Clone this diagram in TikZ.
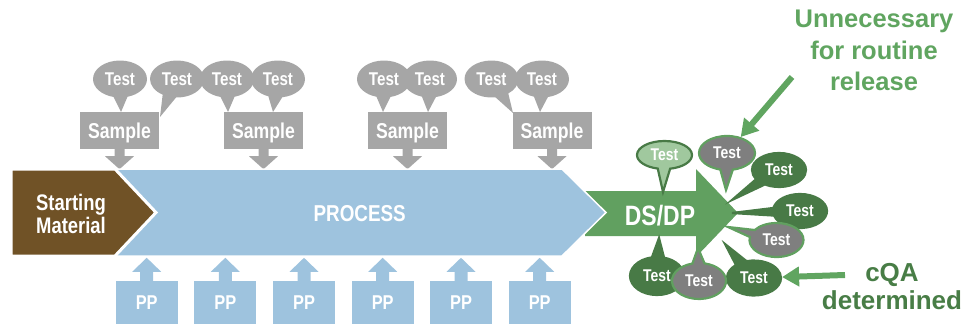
\documentclass[tikz,border=0pt]{standalone}
\usepackage{fontspec}
\setmainfont{Liberation Sans}
\newfontfamily\narrowfont{Liberation Sans}[FakeStretch=0.82]
\usetikzlibrary{shapes.callouts,arrows.meta,calc}
\definecolor{smgray}{RGB}{166,166,166}
\definecolor{brownsm}{RGB}{112,82,38}
\definecolor{procblue}{RGB}{158,195,222}
\definecolor{dsgreen}{RGB}{97,160,96}
\definecolor{dkgreen}{RGB}{72,122,70}
\definecolor{ltgreen}{RGB}{160,200,158}
\definecolor{tgray}{RGB}{127,127,127}
\definecolor{lblgreen}{RGB}{96,165,96}
\definecolor{lbldark}{RGB}{72,125,70}
\begin{document}
\begin{tikzpicture}[x=1pt,y=-1pt,
  nar/.style={font=\narrowfont\bfseries\fontsize{#1}{#1}\selectfont},
  sbox/.style={fill=smgray, text=white, minimum width=79pt, minimum height=37pt,
    inner sep=0pt, nar=21.5, text depth=0pt},
  ppbox/.style={fill=procblue, text=white, minimum width=62pt, minimum height=43pt,
    inner sep=0pt, nar=20, text depth=0pt},
  toptest/.style={ellipse callout, fill=smgray, text=white, minimum width=54pt,
    minimum height=37pt, inner sep=0pt, callout pointer arc=30, nar=18.5, text depth=0pt},
  rtest/.style={ellipse callout, inner sep=0pt, callout pointer arc=26, nar=17,
    text=white, text depth=0pt, line width=2.2pt, minimum width=54pt, minimum height=34pt},
  gtest/.style={rtest, fill=tgray, draw=dsgreen},
  dtest/.style={rtest, fill=dkgreen, draw=dkgreen},
  ltest/.style={rtest, fill=ltgreen, draw=dkgreen},
  garrow/.style={draw=lblgreen, line width=6pt, -{Triangle[width=19pt,length=17pt]}},
  lbl/.style={inner sep=0pt, align=center, anchor=north}
]
\useasboundingbox (0,0) rectangle (967,324);

% DS/DP arrow
\fill[dsgreen] (585,191) -- (696,191) -- (696,169) -- (738,213) -- (696,257)
  -- (696,236) -- (585,236) -- cycle;

% Sample boxes and their arrows
\foreach \i/\x in {1/119.5,2/263.5,3/407.5,4/552}{
  \node[sbox] (s\i) at (\x,130.5) {Sample};
  \fill[smgray] ($(s\i.south)+(-5,0)$) -- ++(0,7) -- ++(-9.5,0)
    -- ($(s\i.south)+(0,20)$) -- ($(s\i.south)+(14.5,7)$) -- ++(-9.5,0) -- ++(0,-7) -- cycle;
}

% Process arrow
\path[fill=procblue, draw=white, line width=1.5pt] (116,169) -- (562,169) -- (606,212.5)
  -- (562,256) -- (116,256) -- cycle;
% Starting material
\path[fill=brownsm, draw=white, line width=3pt] (11,169) -- (115,169) -- (156,212.5)
  -- (115,256) -- (11,256) -- cycle;
\node[text=white, nar=22.5, align=center, inner sep=0pt,
  font=\narrowfont\bfseries\fontsize{22.5}{22.7}\selectfont] (sm) at (71,214) {Starting\\Material};
\node[text=white, nar=23, anchor=base, inner sep=0pt] (proc) at (359.7,221.7) {PROCESS};
\node[text=white, nar=28, anchor=base, inner sep=0pt] (ds) at (660,225) {DS/DP};

% PP boxes and arrows
\foreach \i/\x in {1/146.7,2/225.3,3/304,4/382.7,5/461,6/539.7}{
  \node[ppbox] (p\i) at (\x,302.5) {PP};
  \fill[procblue] ($(p\i.north)+(-6.5,0)$) -- ++(0,-9) -- ++(-8,0)
    -- ($(p\i.north)+(0,-23)$) -- ($(p\i.north)+(14.5,-9)$) -- ++(-8,0) -- ++(0,9) -- cycle;
}

% Top tests
\node[toptest, callout absolute pointer={(121,112)}] (t1) at (120,79) {Test};
\node[toptest, callout absolute pointer={(160,117)}] (t2) at (177,79) {Test};
\node[toptest, callout absolute pointer={(228,112)}] (t3) at (227,79) {Test};
\node[toptest, callout absolute pointer={(273,112)}] (t4) at (278,79) {Test};
\node[toptest, callout absolute pointer={(383,112)}] (t5) at (384,79) {Test};
\node[toptest, callout absolute pointer={(428,112)}] (t6) at (430,79) {Test};
\node[toptest, callout absolute pointer={(513,113)}] (t7) at (491.5,79) {Test};
\node[toptest, callout absolute pointer={(540,112)}] (t8) at (542,79) {Test};

% Right tests
\node[ltest, minimum width=55pt, minimum height=28pt, callout absolute pointer={(663,192)}] (r1) at (664.5,155) {Test};
\node[gtest, minimum width=56pt, callout absolute pointer={(726,190)}] (r2) at (727,153) {Test};
\node[dtest, callout absolute pointer={(732,200)}] (r3) at (779,170) {Test};
\node[dtest, callout absolute pointer={(732,213)}] (r4) at (800,211) {Test};
\node[gtest, callout absolute pointer={(728,227)}] (r5) at (776.5,240) {Test};
\node[dtest, minimum height=38pt, callout absolute pointer={(659,238)}] (r8) at (657,276) {Test};
\node[dtest, minimum height=35pt, callout absolute pointer={(725,244)}] (r6) at (754,278) {Test};
\node[gtest, minimum height=36pt, callout absolute pointer={(698,248)}] (r7) at (699,281) {Test};

% Labels and arrows
\node[lbl, text=lblgreen, font=\bfseries\fontsize{25.5}{31.5}\selectfont] (un) at (874,10)
  {Unnecessary\\for routine\\release};
\coordinate (ua) at (792,77);
\draw[garrow] (ua) -- (r2);
\node[lbl, text=lbldark, font=\bfseries\fontsize{26}{28.3}\selectfont] (cq) at (892,263)
  {cQA\\determined};
\coordinate (ca) at (845,275);
\draw[garrow] (ca) -- (r6);
\end{tikzpicture}
\end{document}
